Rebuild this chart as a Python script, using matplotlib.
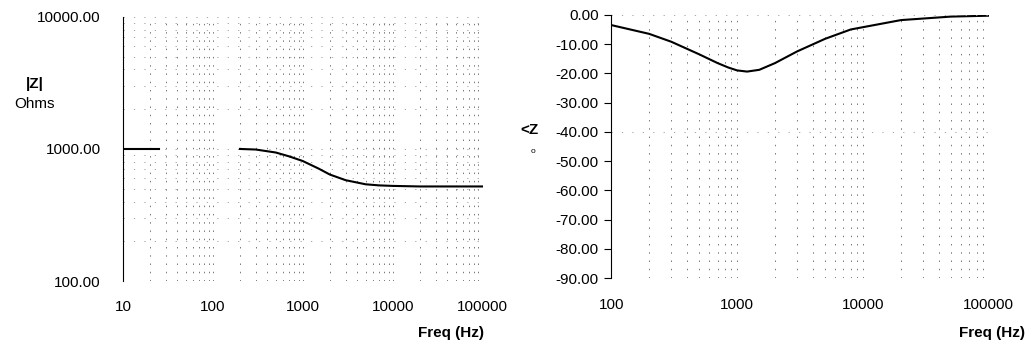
import matplotlib
matplotlib.use("Agg")
import matplotlib.pyplot as plt
from matplotlib.ticker import FixedLocator, NullFormatter

plt.rcParams['font.family'] = ['Liberation Sans', 'DejaVu Sans']

# magnitude |Z| (ohms)
mag_low_freq = [10, 25]
mag_low = [1000, 1000]
mag_freq = [200, 300, 500, 700, 1000, 1500, 2000, 3000, 5000, 7000, 10000, 20000, 50000, 100000]
mag_ohms = [1000, 990, 940, 880, 810, 710, 640, 580, 540, 530, 525, 520, 520, 520]

# phase <Z (degrees)
ph_freq = [100, 200, 300, 500, 700, 850, 1000, 1200, 1500, 2000, 3000, 5000, 8000, 20000, 50000, 100000]
ph_deg = [-3.5, -6.5, -9.2, -13.5, -16.5, -18.0, -19.0, -19.4, -18.8, -16.5, -12.5, -8.2, -5.0, -1.8, -0.6, -0.3]

mag_ticks = [100, 1000, 10000]
mag_labels = ["100.00", "1000.00", "10000.00"]
left_xticks = [10, 100, 1000, 10000, 100000]
right_xticks = [100, 1000, 10000, 100000]
ph_ticks = list(range(-90, 1, 10))

fs = 11
fig = plt.figure(figsize=(10.29, 3.45), dpi=100)
ax1 = fig.add_axes([0.1195, 0.1855, 0.3495, 0.7655])
ax2 = fig.add_axes([0.594, 0.194, 0.367, 0.763])

vgrid = dict(color="#777777", linestyle=(0, (1.5, 7)), linewidth=0.7)
hgrid = dict(color="#999999", linestyle=(0, (1.5, 11)), linewidth=0.6)
minor = [m * 10 ** e for e in range(1, 5) for m in range(2, 10)]

# left panel
ax1.set_xscale("log")
ax1.set_yscale("log")
ax1.set_xlim(10, 100000)
ax1.set_ylim(100, 10000)
ax1.plot(mag_low_freq, mag_low, color="black", lw=1.5)
ax1.plot(mag_freq, mag_ohms, color="black", lw=1.5)
ax1.xaxis.set_major_locator(FixedLocator(left_xticks))
ax1.xaxis.set_minor_locator(FixedLocator(minor))
ax1.set_xticklabels([str(t) for t in left_xticks])
ax1.xaxis.set_minor_formatter(NullFormatter())
ax1.yaxis.set_major_locator(FixedLocator(mag_ticks))
ax1.set_yticklabels(mag_labels)
ax1.yaxis.set_minor_locator(FixedLocator([m * 10 ** e for e in range(2, 4) for m in range(2, 10)]))
ax1.yaxis.set_minor_formatter(NullFormatter())
ax1.grid(True, which="both", axis="x", **vgrid)
ax1.grid(True, which="both", axis="y", **hgrid)
for s in ["top", "right", "bottom"]:
    ax1.spines[s].set_visible(False)
ax1.tick_params(axis="both", which="both", length=0)
ax1.tick_params(axis="x", pad=14, labelsize=fs)
ax1.tick_params(axis="y", pad=16, labelsize=fs)
fig.text(0.034, 0.757, "|Z|", fontsize=fs, fontweight="bold", ha="center", va="center")
fig.text(0.034, 0.700, "Ohms", fontsize=fs, ha="center", va="center")
fig.text(0.470, 0.035, "Freq (Hz)", fontsize=fs, fontweight="bold", ha="right", va="center")

# right panel
ax2.set_xscale("log")
ax2.set_xlim(100, 100000)
ax2.set_ylim(-90, 0)
ax2.plot(ph_freq, ph_deg, color="black", lw=1.5)
ax2.xaxis.set_major_locator(FixedLocator(right_xticks))
ax2.xaxis.set_minor_locator(FixedLocator([m * 10 ** e for e in range(2, 5) for m in range(2, 10)]))
ax2.set_xticklabels([str(t) for t in right_xticks])
ax2.xaxis.set_minor_formatter(NullFormatter())
ax2.yaxis.set_major_locator(FixedLocator(ph_ticks))
ax2.set_yticklabels(["%.2f" % t for t in ph_ticks])
ax2.grid(True, which="both", axis="x", **vgrid)
ax2.axhline(-40, **hgrid)
ax2.axhline(0, **hgrid)
for s in ["top", "right", "bottom"]:
    ax2.spines[s].set_visible(False)
ax2.tick_params(axis="x", which="both", length=0, pad=14, labelsize=fs)
ax2.tick_params(axis="y", length=5, width=0.8, pad=4, labelsize=fs)
fig.text(0.515, 0.622, "<Z", fontsize=fs, fontweight="bold", ha="center", va="center")
fig.text(0.518, 0.560, "o", fontsize=6, ha="center", va="center")
fig.text(0.996, 0.035, "Freq (Hz)", fontsize=fs, fontweight="bold", ha="right", va="center")

fig.savefig("out.png", dpi=100)
